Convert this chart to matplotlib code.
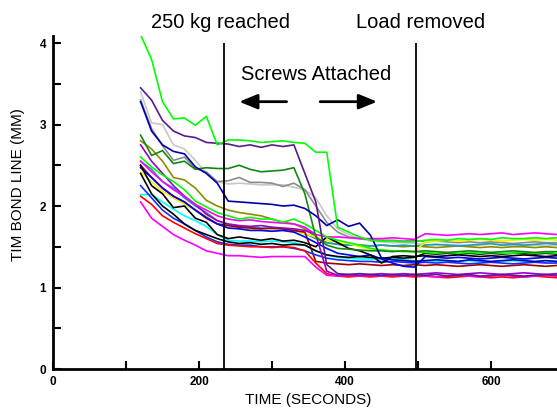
import matplotlib.pyplot as plt

# sample times (s)
t = [120, 135, 150, 165, 180, 195, 210, 225, 240, 255, 270, 285, 300, 315, 330,
     345, 360, 375, 390, 405, 420, 435, 450, 465, 480, 495, 510, 525, 540, 555,
     570, 585, 600, 615, 630, 645, 660, 675, 690]

# bond line thickness (mm) per sample
lime_top = [4.10, 3.80, 3.28, 3.07, 3.08, 2.99, 3.10, 2.75, 2.81, 2.81, 2.80, 2.78, 2.79, 2.80, 2.78,
            2.77, 2.66, 2.66, 1.74, 1.68, 1.62, 1.58, 1.57, 1.57, 1.56, 1.56, 1.58, 1.59, 1.58, 1.60,
            1.59, 1.60, 1.59, 1.61, 1.60, 1.60, 1.61, 1.60, 1.61]
indigo = [3.45, 3.30, 3.05, 2.92, 2.86, 2.84, 2.78, 2.77, 2.76, 2.73, 2.75, 2.72, 2.75, 2.73, 2.75,
          2.40, 2.05, 1.28, 1.17, 1.16, 1.17, 1.16, 1.15, 1.16, 1.15, 1.16, 1.15, 1.16, 1.14, 1.15,
          1.16, 1.14, 1.15, 1.16, 1.15, 1.14, 1.15, 1.16, 1.15]
navy = [3.28, 2.92, 2.75, 2.67, 2.64, 2.48, 2.40, 2.28, 2.06, 2.05, 2.04, 2.03, 2.02, 2.00, 2.01,
        1.97, 1.88, 1.76, 1.83, 1.75, 1.79, 1.64, 1.36, 1.34, 1.33, 1.32, 1.33, 1.34, 1.33, 1.32,
        1.34, 1.33, 1.32, 1.33, 1.34, 1.33, 1.32, 1.33, 1.32]
silver = [3.40, 3.02, 3.00, 2.75, 2.70, 2.56, 2.40, 2.30, 2.27, 2.28, 2.27, 2.26, 2.26, 2.26, 2.23,
          2.20, 2.10, 1.88, 1.72, 1.65, 1.60, 1.57, 1.56, 1.55, 1.55, 1.54, 1.53, 1.52, 1.53, 1.52,
          1.51, 1.52, 1.53, 1.52, 1.51, 1.52, 1.52, 1.51, 1.52]
gray = [3.30, 2.95, 2.74, 2.56, 2.60, 2.46, 2.42, 2.30, 2.31, 2.35, 2.29, 2.29, 2.28, 2.24, 2.28,
        2.20, 2.00, 1.80, 1.68, 1.62, 1.60, 1.59, 1.58, 1.58, 1.57, 1.58, 1.56, 1.57, 1.56, 1.55,
        1.56, 1.55, 1.56, 1.55, 1.54, 1.55, 1.56, 1.55, 1.55]
forest = [2.87, 2.62, 2.68, 2.52, 2.55, 2.45, 2.47, 2.46, 2.46, 2.50, 2.45, 2.42, 2.43, 2.44, 2.47,
          2.15, 1.62, 1.52, 1.48, 1.47, 1.46, 1.45, 1.45, 1.44, 1.45, 1.44, 1.45, 1.44, 1.43, 1.44,
          1.45, 1.44, 1.43, 1.44, 1.45, 1.44, 1.43, 1.44, 1.44]
olive = [2.80, 2.70, 2.55, 2.35, 2.32, 2.22, 2.07, 2.00, 1.95, 1.92, 1.90, 1.88, 1.84, 1.80, 1.78,
         1.72, 1.62, 1.55, 1.53, 1.52, 1.52, 1.51, 1.52, 1.51, 1.50, 1.51, 1.50, 1.49, 1.50, 1.51,
         1.50, 1.49, 1.50, 1.49, 1.50, 1.50, 1.49, 1.50, 1.49]
lime_mid = [2.60, 2.48, 2.38, 2.30, 2.20, 2.06, 1.99, 1.92, 1.88, 1.84, 1.86, 1.84, 1.84, 1.80, 1.84,
            1.78, 1.70, 1.62, 1.58, 1.55, 1.52, 1.48, 1.46, 1.45, 1.44, 1.44, 1.43, 1.42, 1.43, 1.42,
            1.43, 1.42, 1.43, 1.42, 1.42, 1.43, 1.42, 1.43, 1.42]
magenta_top = [2.55, 2.42, 2.30, 2.20, 2.12, 2.02, 1.95, 1.88, 1.84, 1.82, 1.83, 1.81, 1.80, 1.79, 1.78,
               1.74, 1.65, 1.62, 1.62, 1.61, 1.60, 1.60, 1.60, 1.61, 1.60, 1.59, 1.66, 1.65, 1.64, 1.65,
               1.66, 1.65, 1.66, 1.67, 1.65, 1.66, 1.67, 1.66, 1.65]
purple = [2.75, 2.55, 2.40, 2.25, 2.12, 2.02, 1.90, 1.82, 1.78, 1.76, 1.75, 1.76, 1.74, 1.73, 1.72,
          1.70, 1.65, 1.20, 1.15, 1.16, 1.15, 1.16, 1.17, 1.16, 1.17, 1.16, 1.17, 1.18, 1.17, 1.16,
          1.17, 1.18, 1.17, 1.16, 1.17, 1.18, 1.17, 1.16, 1.17]
yellow = [2.42, 2.30, 2.18, 2.10, 2.02, 1.95, 1.88, 1.78, 1.74, 1.72, 1.72, 1.70, 1.70, 1.70, 1.68,
          1.66, 1.62, 1.58, 1.56, 1.54, 1.50, 1.47, 1.46, 1.45, 1.45, 1.44, 1.56, 1.57, 1.58, 1.57,
          1.58, 1.59, 1.58, 1.57, 1.58, 1.59, 1.58, 1.59, 1.58]
teal = [2.55, 2.45, 2.30, 2.22, 2.10, 2.00, 1.92, 1.82, 1.77, 1.75, 1.74, 1.73, 1.72, 1.72, 1.70,
        1.66, 1.60, 1.55, 1.53, 1.52, 1.52, 1.51, 1.52, 1.51, 1.52, 1.51, 1.52, 1.53, 1.52, 1.51,
        1.52, 1.53, 1.54, 1.52, 1.53, 1.52, 1.53, 1.54, 1.53]
maroon = [2.50, 2.35, 2.22, 2.12, 2.05, 1.95, 1.85, 1.78, 1.76, 1.74, 1.73, 1.72, 1.73, 1.72, 1.70,
          1.68, 1.32, 1.30, 1.29, 1.28, 1.29, 1.28, 1.27, 1.28, 1.27, 1.28, 1.27, 1.28, 1.27, 1.26,
          1.27, 1.28, 1.27, 1.26, 1.27, 1.28, 1.27, 1.26, 1.27]
blue = [2.47, 2.35, 2.22, 2.12, 2.05, 1.95, 1.86, 1.78, 1.73, 1.72, 1.70, 1.70, 1.69, 1.70, 1.68,
        1.62, 1.55, 1.48, 1.42, 1.40, 1.38, 1.40, 1.35, 1.30, 1.26, 1.25, 1.38, 1.37, 1.36, 1.37,
        1.36, 1.35, 1.36, 1.37, 1.36, 1.35, 1.36, 1.37, 1.36]
blue_low = [2.25, 2.10, 1.95, 1.85, 1.78, 1.70, 1.62, 1.56, 1.53, 1.52, 1.52, 1.50, 1.50, 1.50, 1.48,
            1.45, 1.40, 1.36, 1.34, 1.33, 1.32, 1.32, 1.31, 1.32, 1.31, 1.30, 1.31, 1.30, 1.31, 1.30,
            1.29, 1.30, 1.31, 1.30, 1.29, 1.30, 1.31, 1.30, 1.30]
cyan = [2.14, 2.14, 2.05, 1.96, 1.88, 1.82, 1.75, 1.65, 1.58, 1.57, 1.57, 1.56, 1.57, 1.56, 1.55,
        1.52, 1.45, 1.40, 1.37, 1.36, 1.35, 1.35, 1.34, 1.35, 1.34, 1.33, 1.33, 1.32, 1.33, 1.32,
        1.33, 1.32, 1.31, 1.32, 1.33, 1.32, 1.31, 1.32, 1.32]
black_a = [2.50, 2.25, 2.15, 1.98, 2.00, 1.85, 1.80, 1.65, 1.60, 1.62, 1.60, 1.58, 1.60, 1.57, 1.58,
           1.55, 1.50, 1.62, 1.55, 1.48, 1.45, 1.40, 1.30, 1.38, 1.39, 1.38, 1.39, 1.38, 1.39, 1.40,
           1.39, 1.38, 1.39, 1.38, 1.39, 1.40, 1.39, 1.38, 1.39]
black_b = [2.40, 2.15, 2.00, 1.90, 1.78, 1.70, 1.65, 1.60, 1.56, 1.54, 1.55, 1.53, 1.54, 1.52, 1.53,
           1.52, 1.45, 1.40, 1.38, 1.37, 1.38, 1.37, 1.36, 1.37, 1.36, 1.37, 1.42, 1.41, 1.42, 1.41,
           1.42, 1.41, 1.42, 1.41, 1.42, 1.42, 1.41, 1.42, 1.41]
red = [2.12, 2.02, 1.88, 1.80, 1.73, 1.66, 1.60, 1.54, 1.52, 1.51, 1.50, 1.50, 1.49, 1.50, 1.49,
       1.45, 1.30, 1.17, 1.14, 1.13, 1.14, 1.13, 1.14, 1.13, 1.14, 1.13, 1.14, 1.13, 1.12, 1.13,
       1.14, 1.13, 1.12, 1.13, 1.12, 1.13, 1.14, 1.13, 1.12]
magenta_low = [2.05, 1.85, 1.75, 1.65, 1.58, 1.52, 1.45, 1.42, 1.39, 1.39, 1.38, 1.37, 1.38, 1.38, 1.38,
               1.38, 1.25, 1.15, 1.14, 1.15, 1.14, 1.15, 1.14, 1.15, 1.14, 1.15, 1.14, 1.13, 1.14, 1.15,
               1.14, 1.13, 1.14, 1.15, 1.14, 1.13, 1.14, 1.15, 1.14]

series = [
    (silver, '#c8c8c8'), (gray, '#8c8c8c'), (olive, '#8c8c00'), (teal, '#1a9fb8'),
    (yellow, '#f5f000'), (maroon, '#a00000'), (cyan, '#00ffff'), (blue_low, '#1030ff'),
    (blue, '#0000ff'), (black_b, '#000000'), (black_a, '#000000'), (red, '#ff0000'),
    (magenta_low, '#ff00ff'), (purple, '#9900cc'), (magenta_top, '#ff00ff'),
    (lime_mid, '#00ff00'), (forest, '#118811'), (navy, '#0000aa'), (indigo, '#5a1a8c'),
    (lime_top, '#00ff00'),
]

event_times = [234, 497]
event_labels = ["250 kg reached", "Load removed"]

fig = plt.figure(figsize=(5.57, 4.11), dpi=100)
ax = fig.add_axes([53 / 557, 42 / 411, 504 / 557, 333 / 411])

for values, color in series:
    ax.plot(t, values, color=color, lw=1.2)

ax.vlines(event_times, 0, 4.0, color='black', lw=1.3)

ax.set_xlim(0, 690.4)
ax.set_ylim(0, 4.086)

txt = dict(family='Liberation Sans', fontsize=14.5, color='black')
ax.text(230, 4.18, event_labels[0], ha='center', va='baseline', **txt)
ax.text(503, 4.18, event_labels[1], ha='center', va='baseline', **txt)
ax.text(360, 3.55, "Screws Attached", ha='center', va='baseline', **txt)

arrow = dict(arrowstyle='-|>,head_length=1.1,head_width=0.45', color='black',
             lw=2, shrinkA=0, shrinkB=0, mutation_scale=10)
ax.annotate('', xy=(255, 3.28), xytext=(320, 3.28), arrowprops=arrow)
ax.annotate('', xy=(444, 3.28), xytext=(366, 3.28), arrowprops=arrow)

ax.spines['top'].set_visible(False)
ax.spines['right'].set_visible(False)
ax.spines['left'].set_linewidth(2)
ax.spines['bottom'].set_linewidth(2)

ax.set_xticks([0, 200, 400, 600])
ax.set_xticks([100, 300, 500], minor=True)
ax.set_yticks([0, 1, 2, 3, 4])
ax.set_yticks([0.5, 1.5, 2.5, 3.5], minor=True)
ax.tick_params(which='both', direction='in', length=5.5, width=1.5, pad=5)
for lab in ax.get_xticklabels() + ax.get_yticklabels():
    lab.set_family('Liberation Sans')
    lab.set_fontweight('bold')
    lab.set_fontsize(8.5)

fig.text(18 / 557, 1 - 185 / 411, "TIM BOND LINE (MM)", rotation=90,
         ha='center', va='center', family='Liberation Sans', fontsize=11)
fig.text(308 / 557, 1 - 400 / 411, "TIME (SECONDS)",
         ha='center', va='center', family='Liberation Sans', fontsize=11)

fig.savefig('out.png', dpi=100)
